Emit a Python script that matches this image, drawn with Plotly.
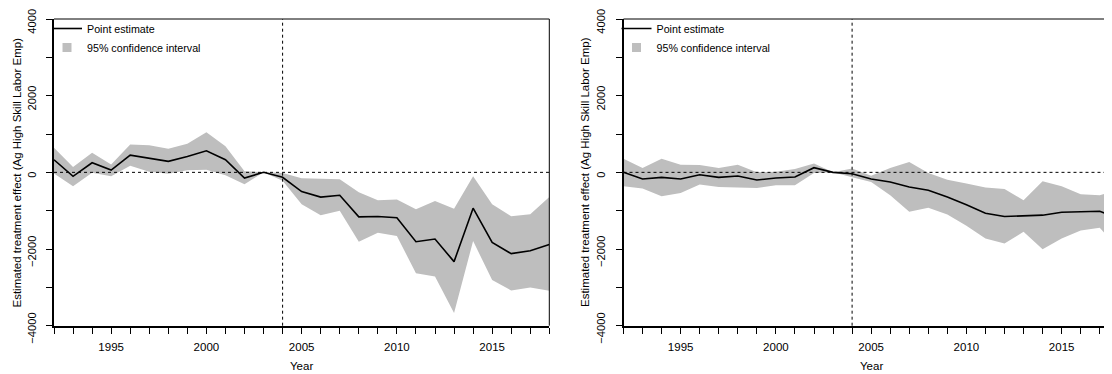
import plotly.graph_objects as go

years = list(range(1992, 2019))
x_tick_labels = {1995: "1995", 2000: "2000", 2005: "2005", 2010: "2010", 2015: "2015"}
y_tick_vals = [-4000, -3000, -2000, -1000, 0, 1000, 2000, 3000, 4000]
y_tick_labels = {-4000: "\u22124000", -2000: "\u22122000", 0: "0", 2000: "2000", 4000: "4000"}
treatment_year = 2004

left_point = [329, -104, 251, 61, 450, 364, 286, 416, 563, 329, -147, 0, -130,
              -500, -645, -597, -1160, -1152, -1186, -1810, -1740, -2329, -935,
              -1827, -2121, -2043, -1879]
left_upper = [640, 139, 511, 208, 727, 710, 615, 745, 1048, 684, 30, 0, -17,
              -156, -165, -182, -519, -727, -710, -961, -745, -952, -104,
              -831, -1143, -1091, -641]
left_lower = [-30, -364, -10, -104, 173, 17, -35, 52, 69, -78, -312, 0, -220,
              -831, -1117, -1004, -1810, -1576, -1662, -2632, -2719, -3671, -1792,
              -2805, -3082, -3004, -3091]

right_point = [0, -173, -130, -173, -61, -130, -95, -199, -147, -121, 121, 0, -35,
               -173, -251, -381, -468, -641, -848, -1065, -1152, -1134, -1117,
               -1039, -1030, -1013, -1200]
right_upper = [355, 113, 355, 199, 190, 113, 199, 0, 17, 87, 234, 0, 100,
               -90, 113, 268, -17, -190, -294, -398, -433, -727, -234,
               -364, -571, -597, -450]
right_lower = [-364, -424, -623, -537, -320, -381, -398, -407, -338, -338, -20, 0, -130,
               -251, -597, -1030, -926, -1100, -1394, -1723, -1853, -1550, -2009,
               -1723, -1515, -1446, -2000]

FONT = "Liberation Sans, Arial, Helvetica, sans-serif"
GREY = "rgb(190,190,190)"
OFF = 8  # page body margin
W, H = 1112 - OFF, 374 - OFF

fig = go.Figure()

panels = [
    ("x", "y", "legend", left_point, left_upper, left_lower),
    ("x2", "y2", "legend2", right_point, right_upper, right_lower),
]
for xa, ya, lg, pt, up, lo in panels:
    fig.add_trace(go.Scatter(x=years, y=lo, mode="lines", line=dict(width=0, color=GREY),
                             xaxis=xa, yaxis=ya, showlegend=False, hoverinfo="skip"))
    fig.add_trace(go.Scatter(x=years, y=up, mode="lines", line=dict(width=0, color=GREY),
                             fill="tonexty", fillcolor=GREY, xaxis=xa, yaxis=ya,
                             showlegend=False, hoverinfo="skip"))
    fig.add_trace(go.Scatter(x=years, y=pt, mode="lines", line=dict(width=1.6, color="black"),
                             xaxis=xa, yaxis=ya, name="Point estimate", legend=lg))
    fig.add_trace(go.Scatter(x=[None], y=[None], mode="markers",
                             marker=dict(symbol="square", size=9, color=GREY),
                             xaxis=xa, yaxis=ya, name="95% confidence interval", legend=lg))

def px(v):
    return (v - OFF) / W

def py(v):
    return 1 - (v - OFF) / H

px_per_year = (549.3 - 54) / 26
left_dom = [px(54), px(549.3)]
right_dom = [px(623.5), 1.0]
right_max = 1992 + (1112 - 623.5) / px_per_year
y_dom = [py(325.7), py(19)]

def xaxis(dom, rng, anchor):
    return dict(domain=dom, range=rng, anchor=anchor, tickmode="array", tickvals=years,
                ticktext=[x_tick_labels.get(v, "") for v in years], ticks="outside",
                ticklen=6, tickwidth=1, tickcolor="black", showline=True, linewidth=2,
                linecolor="black", showgrid=False, zeroline=False, ticklabelstandoff=3,
                ticklabeloverflow="allow",
                tickfont=dict(family=FONT, size=11.5, color="black"), automargin=False)

def yaxis(anchor):
    return dict(domain=y_dom, range=[-4000, 4000], anchor=anchor, tickmode="array",
                tickvals=y_tick_vals, ticktext=[y_tick_labels.get(v, "") for v in y_tick_vals],
                ticks="outside", ticklen=6, tickwidth=1, tickcolor="black", tickangle=-90,
                showline=True, linewidth=2, linecolor="black", showgrid=False, zeroline=False,
                ticklabelstandoff=6, ticklabeloverflow="allow", ticklabelshift=4,
                tickfont=dict(family=FONT, size=11.2, color="black"), automargin=False)

legend_common = dict(font=dict(family=FONT, size=10.7, color="black"), bgcolor="rgba(0,0,0,0)",
                     itemwidth=30, xanchor="left", yanchor="top", traceorder="normal",
                     tracegroupgap=0)

fig.update_layout(
    width=W, height=H, margin=dict(l=0, r=0, t=0, b=0),
    plot_bgcolor="white", paper_bgcolor="white",
    xaxis=xaxis(left_dom, [1992, 2018], "y"),
    yaxis=yaxis("x"),
    xaxis2=xaxis(right_dom, [1992, right_max], "y2"),
    yaxis2=yaxis("x2"),
    legend=dict(x=px(47), y=py(14), **legend_common),
    legend2=dict(x=px(616.5), y=py(14), **legend_common),
    showlegend=True,
)

for xa, ya, box_right in [("x", "y", True), ("x2", "y2", False)]:
    fig.add_shape(type="line", xref=f"{xa} domain", yref=ya, x0=0, x1=1, y0=0, y1=0,
                  line=dict(color="black", width=1, dash="3px,3px"))
    fig.add_shape(type="line", xref=xa, yref=f"{ya} domain", x0=treatment_year, x1=treatment_year,
                  y0=0, y1=1, line=dict(color="black", width=1, dash="3px,3px"))
    fig.add_shape(type="line", xref=f"{xa} domain", yref=f"{ya} domain", x0=0, x1=1, y0=1, y1=1,
                  line=dict(color="black", width=1))
    if box_right:
        fig.add_shape(type="line", xref=f"{xa} domain", yref=f"{ya} domain", x0=1, x1=1, y0=0, y1=1,
                      line=dict(color="black", width=1))

title_font = dict(family=FONT, size=11.5, color="black")
ytitle = "Estimated treatment effect (Ag High Skill Labor Emp)"
fig.add_annotation(text="Year", xref="paper", yref="paper", x=px(301.6), y=py(366),
                   showarrow=False, xanchor="center", yanchor="middle", font=title_font)
fig.add_annotation(text="Year", xref="paper", yref="paper", x=px(871), y=py(366),
                   showarrow=False, xanchor="center", yanchor="middle", font=title_font)
fig.add_annotation(text=ytitle, xref="paper", yref="paper", x=px(16), y=py(172.5),
                   showarrow=False, textangle=-90, xanchor="center", yanchor="middle", font=title_font)
fig.add_annotation(text=ytitle, xref="paper", yref="paper", x=px(584.5), y=py(172.5),
                   showarrow=False, textangle=-90, xanchor="center", yanchor="middle", font=title_font)

fig.write_html("out.html")
